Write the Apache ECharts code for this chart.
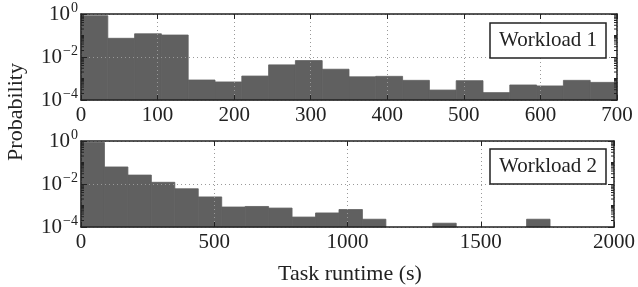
<!DOCTYPE html>
<html>
<head>
<meta charset="utf-8">
<script src="https://cdn.jsdelivr.net/npm/echarts@6/dist/echarts.min.js"></script>
<style>
  html, body { margin: 0; padding: 0; background: #fff; }
  #chart { width: 638px; height: 287px; }
</style>
</head>
<body>
<div id="chart"></div>
<script>
// Workload 1: bin left edges, bin width 35 s
var binStart1 = [0, 35, 70, 105, 140, 175, 210, 245, 280, 315, 350, 385, 420, 455, 490, 525, 560, 595, 630, 665];
var binWidth1 = 35;
var prob1 = [0.83, 0.074, 0.12, 0.105, 8.5e-4, 6.9e-4, 1.3e-3, 4.3e-3, 6.8e-3, 2.7e-3,
             1.2e-3, 1.26e-3, 8.2e-4, 2.9e-4, 7.9e-4, 2.2e-4, 5.0e-4, 4.5e-4, 8.2e-4, 6.6e-4];

// Workload 2: bin left edges, bin width 88 s
var binStart2 = [0, 88, 176, 264, 352, 440, 528, 616, 704, 792, 880, 968, 1056, 1144, 1232, 1320, 1408, 1496, 1584, 1672];
var binWidth2 = 88;
var prob2 = [0.85, 0.062, 0.026, 0.012, 6.0e-3, 2.5e-3, 8.5e-4, 9.0e-4, 7.6e-4, 2.9e-4,
             4.5e-4, 6.5e-4, 2.3e-4, 0, 0, 1.5e-4, 0, 0, 0, 2.3e-4];

// log-axis minor tick values
var minorTicks = [2e-4, 3e-4, 4e-4, 5e-4, 6e-4, 7e-4, 8e-4, 9e-4,
                  1e-3, 2e-3, 3e-3, 4e-3, 5e-3, 6e-3, 7e-3, 8e-3, 9e-3,
                  2e-2, 3e-2, 4e-2, 5e-2, 6e-2, 7e-2, 8e-2, 9e-2,
                  1e-1, 2e-1, 3e-1, 4e-1, 5e-1, 6e-1, 7e-1, 8e-1, 9e-1];

var YMIN = 1e-4, YMAX = 1;
var FONT = '"Liberation Serif", "DejaVu Serif", serif';
var INK = '#222';
var BAR = '#606060';

function toBins(starts, width, vals) {
  return starts.map(function (s, i) { return [s, s + width, vals[i]]; });
}

function renderBar(params, api) {
  var v = api.value(2);
  if (!(v > 0)) return;
  var p0 = api.coord([api.value(0), v]);
  var p1 = api.coord([api.value(1), YMIN]);
  var cs = params.coordSys;
  var shape = echarts.graphic.clipRectByRect(
    { x: p0[0], y: p0[1], width: p1[0] - p0[0], height: p1[1] - p0[1] },
    { x: cs.x, y: cs.y, width: cs.width, height: cs.height }
  );
  if (!shape) return;
  return { type: 'rect', shape: shape, style: { fill: BAR, stroke: BAR, lineWidth: 0.8 } };
}

function renderMinor(params, api) {
  var cs = params.coordSys;
  var y = api.coord([0, api.value(0)])[1];
  var len = 3;
  return {
    type: 'group',
    children: [
      { type: 'line', shape: { x1: cs.x, y1: y, x2: cs.x + len, y2: y }, style: { stroke: INK, lineWidth: 1 } },
      { type: 'line', shape: { x1: cs.x + cs.width, y1: y, x2: cs.x + cs.width - len, y2: y }, style: { stroke: INK, lineWidth: 1 } }
    ]
  };
}

function logLabel(v) {
  var e = Math.round(Math.log10(v));
  var s = e < 0 ? '\u2212' + (-e) : String(e);
  return '{b|10}{s|' + s + '}';
}

var lineStyle = { color: INK, width: 1.5 };
var gridLine = { color: '#999', type: [1, 3], width: 1 };

function xAxes(grid, max, interval) {
  return [
    {
      gridIndex: grid, type: 'value', min: 0, max: max, interval: interval, position: 'bottom', z: 5,
      axisLine: { show: true, lineStyle: lineStyle },
      axisTick: { show: true, inside: true, length: 5, lineStyle: { color: INK } },
      axisLabel: { color: INK, fontFamily: FONT, fontSize: 21, margin: 5, formatter: function (v) { return String(v); } },
      splitLine: { show: true, lineStyle: gridLine }
    },
    {
      gridIndex: grid, type: 'value', min: 0, max: max, interval: interval, position: 'top', z: 5,
      axisLine: { show: true, lineStyle: lineStyle },
      axisTick: { show: true, inside: true, length: 5, lineStyle: { color: INK } },
      axisLabel: { show: false },
      splitLine: { show: false }
    }
  ];
}

function yAxes(grid) {
  return [
    {
      gridIndex: grid, type: 'log', logBase: 10, min: YMIN, max: YMAX, interval: 2, position: 'left', z: 5,
      axisLine: { show: true, onZero: false, lineStyle: lineStyle },
      axisTick: { show: true, inside: true, length: 6, lineStyle: { color: INK } },
      axisLabel: {
        color: INK, fontFamily: FONT, margin: 3, formatter: logLabel,
        rich: {
          b: { fontFamily: FONT, fontSize: 21, color: INK },
          s: { fontFamily: FONT, fontSize: 14, color: INK, padding: [0, 0, 11, 1] }
        }
      },
      splitLine: { show: true, lineStyle: gridLine }
    },
    {
      gridIndex: grid, type: 'log', logBase: 10, min: YMIN, max: YMAX, interval: 2, position: 'right', z: 5,
      axisLine: { show: true, onZero: false, lineStyle: lineStyle },
      axisTick: { show: true, inside: true, length: 6, lineStyle: { color: INK } },
      axisLabel: { show: false },
      splitLine: { show: false }
    }
  ];
}

function legendBox(text, top) {
  return {
    text: text, left: 490, top: top, padding: [7, 9],
    borderColor: INK, borderWidth: 1.5, backgroundColor: '#fff',
    textStyle: { fontFamily: FONT, fontSize: 21, fontWeight: 'normal', color: INK, lineHeight: 21 }
  };
}

var chart = echarts.init(document.getElementById('chart'), null, { renderer: 'canvas' });

chart.setOption({
  animation: false,
  backgroundColor: '#fff',
  grid: [
    { left: 81, top: 14, width: 536, height: 86 },
    { left: 81, top: 141, width: 536, height: 86 }
  ],
  xAxis: xAxes(0, 700, 100).concat(xAxes(1, 2000, 500)),
  yAxis: yAxes(0).concat(yAxes(1)),
  title: [legendBox('Workload 1', 23), legendBox('Workload 2', 149)],
  graphic: [
    {
      type: 'text', x: 16, y: 112, rotation: Math.PI / 2,
      style: { text: 'Probability', font: '22px ' + FONT, fill: INK, align: 'center', verticalAlign: 'middle' }
    },
    {
      type: 'text', x: 350, y: 274,
      style: { text: 'Task runtime (s)', font: '22px ' + FONT, fill: INK, align: 'center', verticalAlign: 'middle' }
    }
  ],
  series: [
    { type: 'custom', xAxisIndex: 0, yAxisIndex: 0, renderItem: renderBar, data: toBins(binStart1, binWidth1, prob1), z: 2 },
    { type: 'custom', xAxisIndex: 2, yAxisIndex: 2, renderItem: renderBar, data: toBins(binStart2, binWidth2, prob2), z: 2 },
    { type: 'custom', xAxisIndex: 0, yAxisIndex: 0, renderItem: renderMinor, data: minorTicks.map(function (v) { return [v]; }), z: 6, silent: true },
    { type: 'custom', xAxisIndex: 2, yAxisIndex: 2, renderItem: renderMinor, data: minorTicks.map(function (v) { return [v]; }), z: 6, silent: true }
  ]
});
</script>
</body>
</html>
